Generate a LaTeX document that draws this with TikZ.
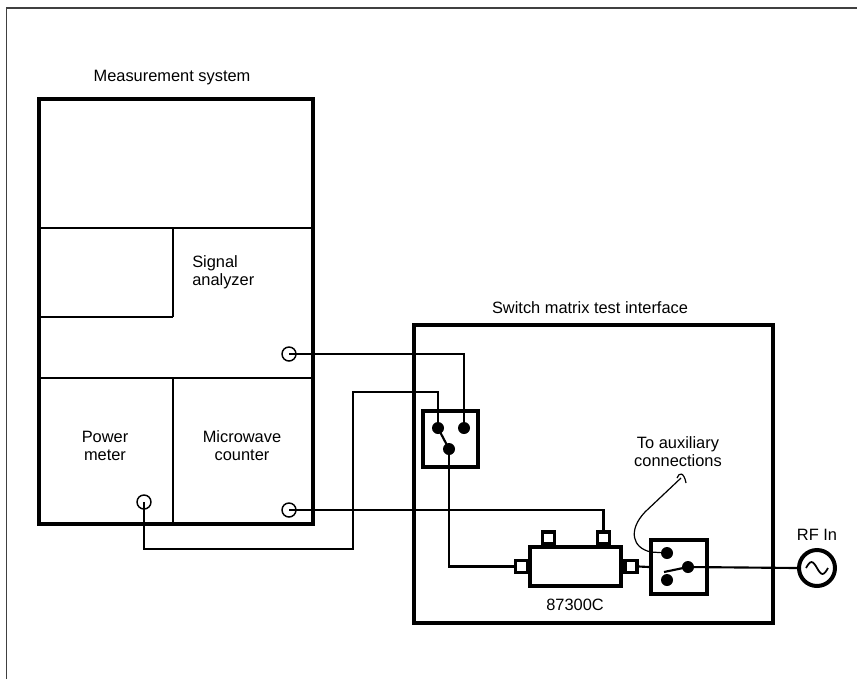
\documentclass[tikz,border=0pt]{standalone}
\usepackage{fontspec}
\setmainfont{Liberation Sans}
\begin{document}
\begin{tikzpicture}[x=0.75pt,y=-0.75pt,
  lbl/.style={font=\fontsize{12.3}{13.5}\selectfont, inner sep=0pt, align=center},
  heavy/.style={draw, line width=3.2pt, inner sep=0pt},
  divider/.style={line width=1.8pt},
  wire/.style={line width=1.6pt, line join=miter},
  jack/.style={circle, draw, line width=1.1pt, minimum size=14*0.75pt, inner sep=0pt},
  contact/.style={circle, fill, minimum size=12*0.75pt, inner sep=0pt},
  port/.style={draw, fill=white, line width=2.4pt, minimum size=12*0.75pt, inner sep=0pt},
  frame/.style={line width=1pt, black!75},
]
\useasboundingbox (0,0) rectangle (857,679);
% outer frame
\draw[frame] (6.5,679) -- (6.5,8) -- (857,8);

% measurement system
\node[heavy, minimum width=274*0.75pt, minimum height=425*0.75pt] (msys) at (176,311.5) {};
\node[lbl] (msyslbl) at (172,78) {Measurement system};
\draw[divider] (39,228) -- (313,228);
\draw[divider] (173,228) -- (173,317);
\draw[divider] (39,317) -- (173,317);
\draw[divider] (39,378) -- (313,378);
\draw[divider] (173,378) -- (173,524);
\node[lbl, align=left, anchor=west] (salbl) at (192,272) {Signal\\analyzer};
\node[lbl] (pmlbl) at (105,446) {Power\\meter};
\node[lbl] (mclbl) at (242,446) {Microwave\\counter};
\node[jack] (sa) at (289,354) {};
\node[jack] (pm) at (144,502) {};
\node[jack] (mc) at (289,510) {};

% switch matrix test interface
\node[heavy, minimum width=359*0.75pt, minimum height=298*0.75pt] (smti) at (593.5,474) {};
\node[lbl] (smtilbl) at (590,308) {Switch matrix test interface};

% switch 1
\node[heavy, minimum width=55*0.75pt, minimum height=56*0.75pt] (sw1) at (450.5,439) {};
\node[contact] (c1) at (438,428) {};
\node[contact] (c2) at (464,428) {};
\node[contact] (c3) at (449,449) {};
\draw[wire] (c1.center) -- (c3.center);

% 87300C
\node[heavy, minimum width=91*0.75pt, minimum height=39*0.75pt] (body) at (575.5,566.5) {};
\node[port] (pt1) at (548.5,538) {};
\node[port] (pt2) at (603.5,538) {};
\node[port] (pl) at (521.5,566.5) {};
\node[port] (pr) at (631,566.5) {};
\node[lbl] (bodylbl) at (575,605) {87300C};

% switch 2
\node[heavy, minimum width=56*0.75pt, minimum height=54*0.75pt] (sw2) at (679,567) {};
\node[contact] (a1) at (667,553) {};
\node[contact] (a2) at (667,580) {};
\node[contact] (ar) at (688,567) {};
\coordinate (arm) at (664,572);
\draw[wire] (arm) -- (ar.center);

% RF in
\node[circle, draw, line width=3pt, minimum size=36*0.75pt, inner sep=0pt] (rf) at (817,568) {};
\draw[line width=1.3pt] (rf.center) ++(-11,0) sin ++(5.5,-6) cos ++(5.5,6) sin ++(5.5,6) cos ++(5.5,-6);
\node[lbl] (rflbl) at (817,535) {RF In};

% aux
\node[lbl] (auxlbl) at (678,452) {To auxiliary\\connections};
\coordinate (auxend) at (681,478);
\draw[line width=0.9pt] (a1.center) -- (651,552) .. controls (632,548) and (628,530) .. (645,512) -- (auxend);
\draw[line width=0.9pt] (677,478) .. controls (679,472) and (684,472) .. (686,483);

% wires
\draw[wire] (sa.center) -| (c2.center);
\draw[wire] (c3.center) |- (pl.west);
\draw[wire] (mc.center) -| (pt2.north);
\coordinate (pmA) at (144,549);
\coordinate (pmB) at (353,549);
\coordinate (pmC) at (353,392);
\draw[wire] (pm.center) -- (pmA) -- (pmB) -- (pmC) -| (c1.center);
\draw[wire] (pr.east) -- (sw2.west);
\draw[wire] (ar.center) -- (rf.west);
\end{tikzpicture}
\end{document}
